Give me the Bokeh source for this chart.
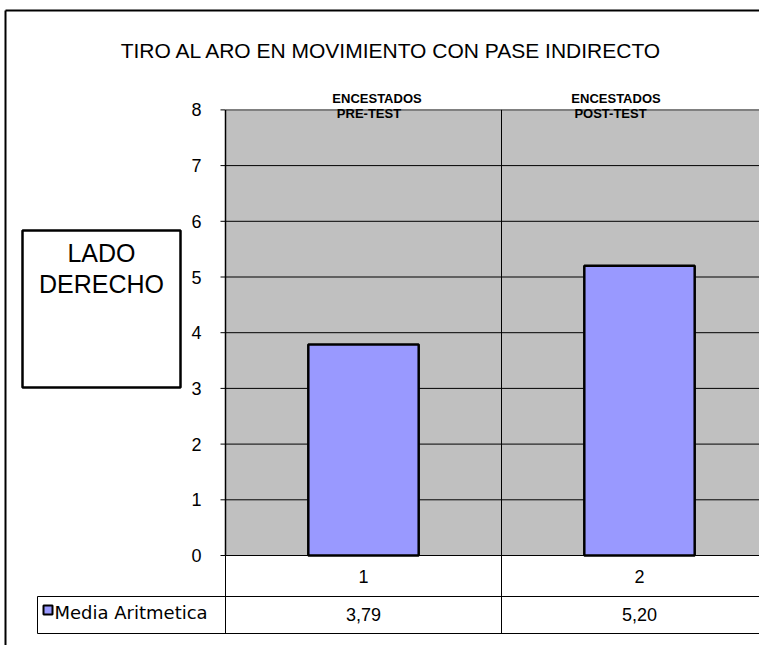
from bokeh.plotting import figure
from bokeh.models import Range1d
from bokeh.core.properties import value
from bokeh.embed import file_html
from bokeh.resources import INLINE

# ---------------- data ----------------
categories = ["1", "2"]
series_name = "Media Aritmetica"
media = [3.79, 5.20]
y_ticks = [0, 1, 2, 3, 4, 5, 6, 7, 8]
title_text = "TIRO AL ARO EN MOVIMIENTO CON PASE INDIRECTO"
head_line1 = ["ENCESTADOS", "ENCESTADOS"]
head_line2 = ["PRE-TEST", "POST-TEST"]
side_text = ["LADO", "DERECHO"]

# ---------------- layout (pixels of the picture) ----------------
W, H = 759, 645
OX, OY = 0, 0
AXIS_X = 225.0      # left edge of plot area
CAT_W = 276.0       # width of one category
ZERO_Y = 555.0      # pixel of value 0
UNIT_H = 55.7       # pixels per unit
ROW1_B = 596.0
ROW2_B = 633.0
CELL_L = 37.0
BORDER_X, BORDER_Y = 5.0, 10.0

FONT = value("Liberation Sans")

ncat = len(categories)
xpos = [i + 1 for i in range(ncat)]
ymax = y_ticks[-1]
x_lo, x_hi = 0.5, ncat + 0.5

p = figure(
    width=W, height=H,
    x_range=Range1d(0.5 - (AXIS_X - OX) / CAT_W, 0.5 + (OX + W - AXIS_X) / CAT_W),
    y_range=Range1d((ZERO_Y - (OY + H)) / UNIT_H, (ZERO_Y - OY) / UNIT_H),
    output_backend="svg", toolbar_location=None,
    x_axis_location=None, y_axis_location=None,
    min_border=0, outline_line_color=None,
    background_fill_color="white", border_fill_color="white",
)
p.grid.visible = False
p.extra_x_ranges = {"px": Range1d(OX, OX + W)}
p.extra_y_ranges = {"px": Range1d(OY + H, OY)}

# outer chart border
p.segment(x0=[BORDER_X, BORDER_X], y0=[BORDER_Y, BORDER_Y], x1=[BORDER_X, OX + W], y1=[OY + H, BORDER_Y],
          line_color="black", line_width=2, x_range_name="px", y_range_name="px")

# title
p.text(x=[391.5], y=[50], text=[title_text], x_range_name="px", y_range_name="px",
       text_font=FONT, text_font_size="21px", text_align="center",
       text_baseline="middle", text_color="black")

# plot area
p.quad(left=[x_lo], right=[x_hi], bottom=[0], top=[ymax], fill_color="#C0C0C0", line_color=None)
grid_ticks = y_ticks[1:-1]
p.segment(x0=[x_lo] * len(grid_ticks), x1=[x_hi] * len(grid_ticks), y0=grid_ticks, y1=grid_ticks,
          line_color="black", line_width=1)
p.segment(x0=[x_lo], x1=[x_hi], y0=[ymax], y1=[ymax], line_color="#808080", line_width=2)
# category divider (plot area)
divs = [i + 1.5 for i in range(ncat - 1)]
p.segment(x0=divs, x1=divs, y0=[0] * len(divs), y1=[ymax] * len(divs), line_color="black", line_width=1)

# bars
p.vbar(x=xpos, top=media, bottom=0, width=0.4, fill_color="#9999FF",
       line_color="black", line_width=2.5)

# y axis
p.segment(x0=[x_lo], x1=[x_lo], y0=[0], y1=[ymax], line_color="black", line_width=1.5)
p.segment(x0=[AXIS_X - 5] * len(y_ticks), x1=[AXIS_X] * len(y_ticks), y0=y_ticks, y1=y_ticks,
          line_color="black", line_width=1, x_range_name="px")
p.text(x=[201] * len(y_ticks), y=y_ticks, text=[str(t) for t in y_ticks], x_range_name="px",
       text_font=FONT, text_font_size="18px", text_align="right",
       text_baseline="middle", text_color="black")

# header labels over the columns
p.text(x=[376.5, 615.5], y=[97.5, 97.5], text=head_line1, x_range_name="px", y_range_name="px",
       text_font=FONT, text_font_size="13px", text_font_style="bold",
       text_align="center", text_baseline="middle", text_color="black")
p.text(x=[368.5, 610.0], y=[112.5, 112.5], text=head_line2, x_range_name="px", y_range_name="px",
       text_font=FONT, text_font_size="13px", text_font_style="bold",
       text_align="center", text_baseline="middle", text_color="black")

# side box
p.quad(left=[22], right=[180], top=[230], bottom=[387], fill_color="white",
       line_color="black", line_width=2.5, x_range_name="px", y_range_name="px")
p.text(x=[101, 101], y=[252, 283.5], text=side_text, x_range_name="px", y_range_name="px",
       text_font=FONT, text_font_size="25px", text_align="center",
       text_baseline="middle", text_color="black")

# data table
R = OX + W
p.segment(x0=[AXIS_X, CELL_L, CELL_L], x1=[R, R, R], y0=[ZERO_Y, ROW1_B, ROW2_B], y1=[ZERO_Y, ROW1_B, ROW2_B],
          line_color="black", line_width=1, x_range_name="px", y_range_name="px")
p.segment(x0=[AXIS_X, CELL_L], x1=[AXIS_X, CELL_L], y0=[ZERO_Y, ROW1_B], y1=[ROW2_B, ROW2_B],
          line_color="black", line_width=1, x_range_name="px", y_range_name="px")
p.segment(x0=divs, x1=divs, y0=[ZERO_Y] * len(divs), y1=[ROW2_B] * len(divs),
          line_color="black", line_width=1, y_range_name="px")
p.text(x=xpos, y=[576] * ncat, text=categories, y_range_name="px",
       text_font=FONT, text_font_size="18px", text_align="center",
       text_baseline="middle", text_color="black")
p.text(x=xpos, y=[614] * ncat, text=[f"{v:.2f}".replace(".", ",") for v in media], y_range_name="px",
       text_font=FONT, text_font_size="18px", text_align="center",
       text_baseline="middle", text_color="black")
# legend key
p.quad(left=[43], right=[52], top=[605], bottom=[614], fill_color="#9999FF",
       line_color="black", line_width=2, x_range_name="px", y_range_name="px")
p.text(x=[54], y=[612], text=[series_name], x_range_name="px", y_range_name="px",
       text_font=value("DejaVu Sans"), text_font_size="18px", text_align="left",
       text_baseline="middle", text_color="black")

open("out.html", "w").write(file_html(p, INLINE))
